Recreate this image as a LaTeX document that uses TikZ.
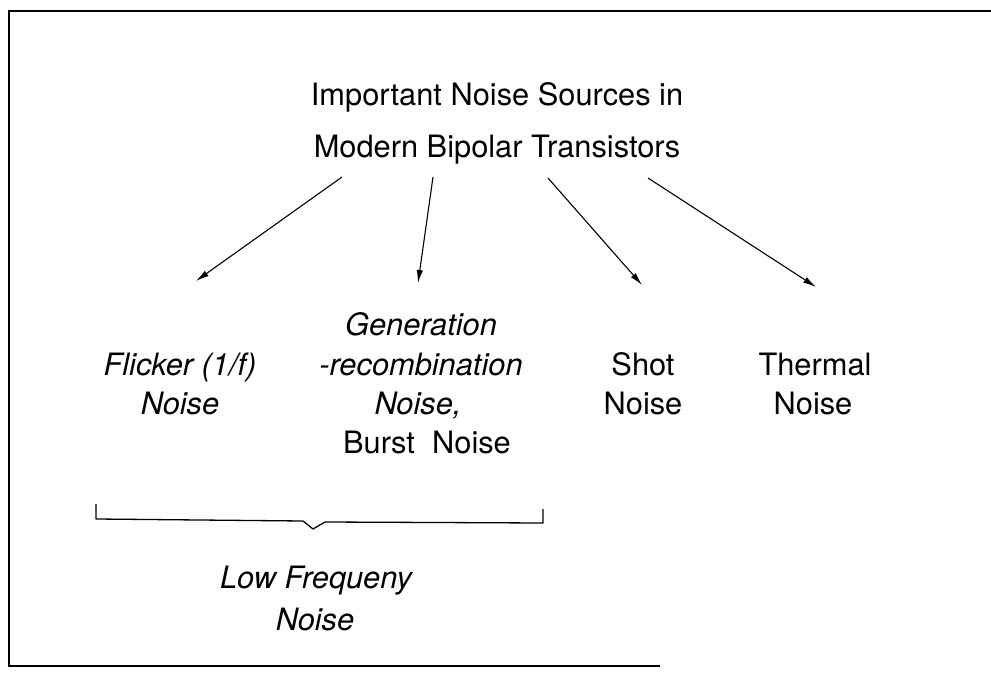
\documentclass[tikz,border=0pt]{standalone}
\usepackage{fontspec}
\setmainfont{TeX Gyre Heros}
\usetikzlibrary{arrows.meta}
\begin{document}
\begin{tikzpicture}[x=1pt,y=-1pt,
  lbl/.style={inner sep=0pt, anchor=base, font=\fontsize{30.8}{36}\selectfont},
  ilbl/.style={inner sep=0pt, anchor=base, font=\fontsize{30.8}{36}\selectfont\itshape},
  arr/.style={line width=1.1pt, -{Latex[length=13pt,width=6.5pt]}},
  frameline/.style={line width=1.4pt},
  bracket/.style={line width=1.3pt, line join=round}]
\useasboundingbox (0,0) rectangle (991,674);
\fill[white] (0,0) rectangle (991,674);
\draw[frameline] (991,11) -- (9,11) -- (9,666) -- (660,666);
% title
\node[lbl] (t1) at (497,106) {Important Noise Sources in};
\node[lbl] (t2) at (497,158) {Modern Bipolar Transistors};
% flicker
\node[ilbl] (f1) at (180,375) {Flicker (1/f)};
\node[ilbl] (f2) at (180,414) {Noise};
% generation-recombination
\node[ilbl] (g1) at (421,335) {Generation};
\node[ilbl] (g2) at (421,375) {-recombination};
\node[ilbl] (g3) at (418,414) {Noise,};
\node[lbl]  (g4) at (427,453) {Burst\ \ Noise};
% shot
\node[lbl] (s1) at (643,375) {Shot};
\node[lbl] (s2) at (643,414) {Noise};
% thermal
\node[lbl] (h1) at (815,375) {Thermal};
\node[lbl] (h2) at (813,414) {Noise};
% low frequency
\node[ilbl] (l1) at (316,588) {Low Frequeny};
\node[ilbl] (l2) at (315,630) {Noise};
% arrows
\coordinate (a1s) at (342,177); \coordinate (a1e) at (196,281);
\coordinate (a2s) at (433,177); \coordinate (a2e) at (418,283);
\coordinate (a3s) at (548,178); \coordinate (a3e) at (642,285);
\coordinate (a4s) at (648,178); \coordinate (a4e) at (816,287);
\draw[arr] (a1s) -- (a1e);
\draw[arr] (a2s) -- (a2e);
\draw[arr] (a3s) -- (a3e);
\draw[arr] (a4s) -- (a4e);
% bracket
\draw[bracket] (96,504) -- (96,519) -- (303,521) -- (313,529) -- (325,522) -- (543,523) -- (543,509);
\end{tikzpicture}
\end{document}
